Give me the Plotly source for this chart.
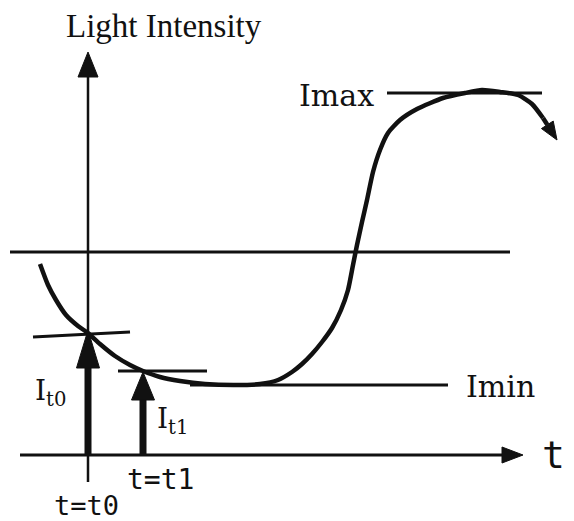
import plotly.graph_objects as go
import numpy as np

W, H = 574, 521
PAD = 8  # default page body margin

# Light-intensity curve (schematic units, screen-like: y grows downward)
curve_x = [40, 48, 56, 66, 78, 88, 100, 115, 130, 143, 160, 180, 205, 235, 260, 278, 292, 302,
           312, 322, 332, 341, 348, 353, 357, 362, 367, 373, 380, 388, 400, 417, 443, 465, 482,
           500, 518, 532, 543]
curve_y = [264, 285, 300, 315, 326, 333, 344, 356, 365, 371, 377, 381, 384, 385, 384, 380, 372, 364,
           354, 342, 328, 310, 290, 265, 245, 222, 200, 172, 150, 133, 120, 109, 98, 93, 90,
           92, 95, 104, 118]
curve_tip = (557, 140)

# reference lines
mid_line_x, mid_line_y = [10, 510], 252
imax_line_x, imax_y = [387, 542], 93
imin_line_x, imin_y = [190, 448], 385
tan0_x, tan0_y = [33, 130], [337, 332]
tan1_x, tan1_y = [118, 207], 371

# axes
t_axis_y, t_axis_x = 455, [20, 523]
i_axis_x, i_axis_y = 88, [482, 52]

# measurement arrows: x position, tip height
meas_x = [88, 143]
meas_tip = [330, 372]
meas_head = [38, 28]

INK = "#111111"
fig = go.Figure()


def line(xs, ys, w):
    fig.add_trace(go.Scatter(x=xs, y=ys, mode="lines", line=dict(color=INK, width=w),
                             hoverinfo="skip", showlegend=False))


def tri(xs, ys):
    fig.add_trace(go.Scatter(x=xs + [xs[0]], y=ys + [ys[0]], mode="lines", fill="toself",
                             fillcolor=INK, line=dict(color=INK, width=1),
                             hoverinfo="skip", showlegend=False))


def arrow(x0, y0, x1, y1, hl, hw, sw):
    d = np.array([x1 - x0, y1 - y0], float)
    L = np.hypot(*d)
    u = d / L
    n = np.array([-u[1], u[0]])
    base = np.array([x1, y1]) - u * hl
    line([x0, base[0]], [y0, base[1]], sw)
    p1 = base + n * hw
    p2 = base - n * hw
    tri([x1, p1[0], p2[0]], [y1, p1[1], p2[1]])


# axes
arrow(i_axis_x, i_axis_y[0], i_axis_x, i_axis_y[1], 25, 10, 2.5)
arrow(t_axis_x[0], t_axis_y, t_axis_x[1], t_axis_y, 21, 8, 3)

# reference lines
line(mid_line_x, [mid_line_y] * 2, 3)
line(imax_line_x, [imax_y] * 2, 3)
line(imin_line_x, [imin_y] * 2, 3)
line(tan0_x, tan0_y, 3)
line(tan1_x, [tan1_y] * 2, 3)

# curve
fig.add_trace(go.Scatter(x=curve_x, y=curve_y, mode="lines",
                         line=dict(color=INK, width=4.5, shape="spline", smoothing=0.6),
                         hoverinfo="skip", showlegend=False))
arrow(curve_x[-1], curve_y[-1], curve_tip[0], curve_tip[1], 18, 7, 4.5)

# measurement arrows
for mx, mt, mh in zip(meas_x, meas_tip, meas_head):
    arrow(mx, t_axis_y, mx, mt, mh, 11.5, 7)

serif = "Liberation Serif"
dserif = "DejaVu Serif"
mono = "DejaVu Sans Mono"
ann = [
    dict(x=164, y=26, text="Light Intensity", font=dict(family=serif, size=33)),
    dict(x=336, y=95, text="Imax", font=dict(family=dserif, size=30)),
    dict(x=500, y=386, text="Imin", font=dict(family=dserif, size=30)),
    dict(x=553, y=455, text="t", font=dict(family=mono, size=38)),
    dict(x=50, y=392, text="I<sub>t0</sub>", font=dict(family=dserif, size=28)),
    dict(x=172, y=420, text="I<sub>t1</sub>", font=dict(family=dserif, size=28)),
    dict(x=160, y=479, text="t=t1", font=dict(family=mono, size=28)),
    dict(x=86, y=505, text="t=t0", font=dict(family=mono, size=27)),
]
for a in ann:
    a["font"]["color"] = INK
    fig.add_annotation(xref="x", yref="y", showarrow=False, xanchor="center",
                       yanchor="middle", borderpad=0, **a)

fig.update_layout(width=W - PAD, height=H - PAD, margin=dict(l=0, r=0, t=0, b=0),
                  paper_bgcolor="white", plot_bgcolor="white")
fig.update_xaxes(range=[PAD, W], visible=False, fixedrange=True)
fig.update_yaxes(range=[H, PAD], visible=False, fixedrange=True)
fig.write_html("out.html")
